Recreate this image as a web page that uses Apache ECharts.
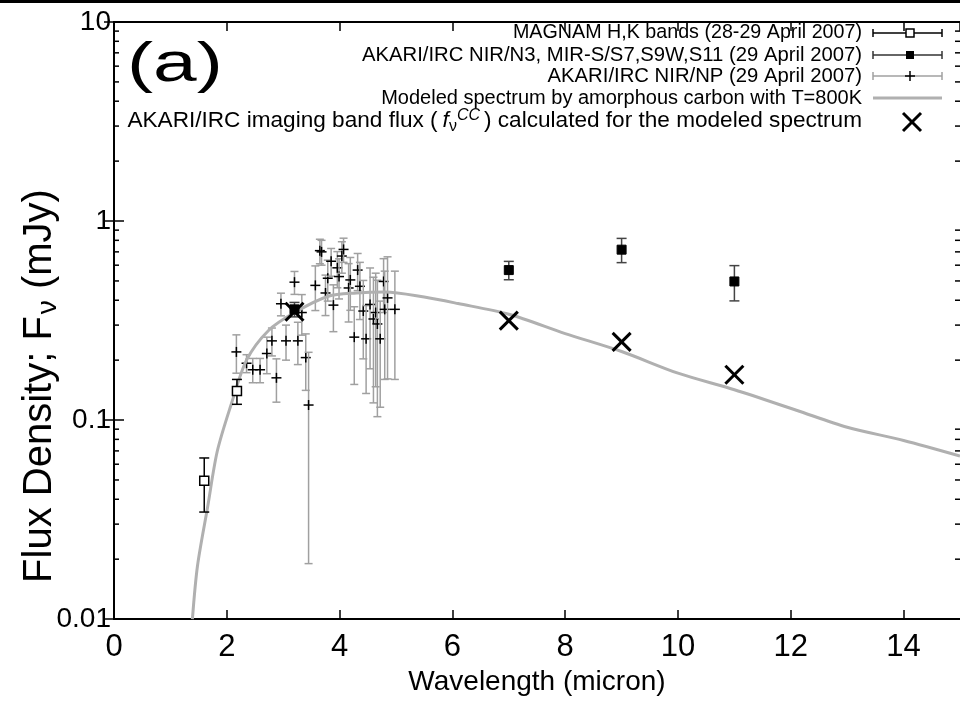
<!DOCTYPE html>
<html>
<head>
<meta charset="utf-8">
<script src="https://cdn.jsdelivr.net/npm/echarts@6/dist/echarts.min.js"></script>
<style>
  html, body { margin: 0; padding: 0; background: #fff; }
  #main { width: 960px; height: 701px; }
</style>
</head>
<body>
<div id="main"></div>
<script>
// MAGNAM H,K bands
var magX = [1.60, 2.18];
var magY = [0.0495, 0.14];
var magErr = [0.015, 0.02];

// AKARI/IRC N3, S7, S9W, S11
var akX = [3.2, 7.0, 9.0, 11.0];
var akY = [0.36, 0.567, 0.718, 0.497];
var akErr = [0.03, 0.06, 0.10, 0.10];

// AKARI/IRC NIR/NP spectrum
var npX = [2.17, 2.35, 2.46, 2.59, 2.71, 2.80, 2.88, 2.96, 3.05, 3.20, 3.26, 3.33, 3.40, 3.45,
           3.57, 3.65, 3.68, 3.75, 3.79, 3.85, 3.89, 3.96, 3.99, 4.04, 4.07, 4.16, 4.19, 4.26,
           4.32, 4.36, 4.42, 4.47, 4.54, 4.60, 4.64, 4.67, 4.72, 4.78, 4.80, 4.85, 4.98];
var npY = [0.22, 0.193, 0.179, 0.179, 0.216, 0.25, 0.163, 0.384, 0.25, 0.493, 0.25, 0.347, 0.206, 0.119,
           0.475, 0.71, 0.70, 0.435, 0.516, 0.628, 0.378, 0.582, 0.526, 0.667, 0.72, 0.461, 0.506, 0.261,
           0.567, 0.47, 0.353, 0.256, 0.381, 0.322, 0.347, 0.304, 0.256, 0.497, 0.36, 0.411, 0.36];
var npErr = [0.048, 0.02, 0.025, 0.025, 0.045, 0.04, 0.04, 0.05, 0.05, 0.065, 0.06, 0.08, 0.065, 0.1,
             0.12, 0.1, 0.1, 0.1, 0.12, 0.1, 0.1, 0.12, 0.12, 0.12, 0.1, 0.15, 0.15, 0.11,
             0.12, 0.15, 0.15, 0.12, 0.2, 0.2, 0.2, 0.2, 0.14, 0.15, 0.2, 0.25, 0.2];

// modeled spectrum (amorphous carbon, T=800K)
var modelX = [1.39, 1.48, 1.66, 1.83, 2.07, 2.35, 2.74, 3.2, 3.8, 4.3, 4.8, 5.5, 6.1, 7.0,
              8.0, 9.0, 10.0, 11.0, 12.1, 13.0, 14.0, 15.0];
var modelY = [0.01, 0.0185, 0.0366, 0.0695, 0.118, 0.2, 0.282, 0.347, 0.419, 0.435, 0.44, 0.415, 0.385, 0.34,
              0.272, 0.221, 0.172, 0.142, 0.112, 0.092, 0.079, 0.066];

// imaging band flux for the model
var bandX = [3.2, 7.0, 9.0, 11.0];
var bandY = [0.35, 0.316, 0.247, 0.169];

var xTicks = [0, 2, 4, 6, 8, 10, 12, 14];
var yTicks = [0.01, 0.1, 1, 10];
var yTickLabels = ['0.01', '0.1', '1', '10'];

var font = "'Liberation Sans', Arial, sans-serif";

// minor ticks of the log axis (2..9 in each decade)
var minorVals = [];
[0.01, 0.1, 1].forEach(function (d) {
    for (var m = 2; m <= 9; m++) minorVals.push(+(d * m).toPrecision(3));
});

function plus(c) {
    return {type: 'group', children: [
        {type: 'line', shape: {x1: c[0] - 5, y1: c[1], x2: c[0] + 5, y2: c[1]}, style: {stroke: '#000', lineWidth: 1.5}},
        {type: 'line', shape: {x1: c[0], y1: c[1] - 5, x2: c[0], y2: c[1] + 5}, style: {stroke: '#000', lineWidth: 1.5}}
    ]};
}
function openSquare(c) {
    return {type: 'rect', shape: {x: c[0] - 4.5, y: c[1] - 4.5, width: 9, height: 9},
        style: {fill: '#fff', stroke: '#000', lineWidth: 1.5}};
}
function filledSquare(c) {
    return {type: 'rect', shape: {x: c[0] - 4.5, y: c[1] - 4.5, width: 9, height: 9},
        style: {fill: '#000', stroke: '#000', lineWidth: 1}};
}
function cross(c) {
    var s = 9;
    return {type: 'group', children: [
        {type: 'line', shape: {x1: c[0] - s, y1: c[1] - s, x2: c[0] + s, y2: c[1] + s}, style: {stroke: '#000', lineWidth: 3}},
        {type: 'line', shape: {x1: c[0] - s, y1: c[1] + s, x2: c[0] + s, y2: c[1] - s}, style: {stroke: '#000', lineWidth: 3}}
    ]};
}

function errSeries(name, xs, ys, errs, color, cap, marker, z) {
    return {
        name: name,
        type: 'custom',
        z: z,
        clip: true,
        data: xs.map(function (x, i) { return [x, ys[i], ys[i] - errs[i], ys[i] + errs[i]]; }),
        encode: {x: 0, y: 1},
        renderItem: function (params, api) {
            var c = api.coord([api.value(0), api.value(1)]);
            var lo = api.coord([api.value(0), api.value(2)]);
            var hi = api.coord([api.value(0), api.value(3)]);
            var st = {stroke: color, lineWidth: 1.5};
            return {type: 'group', children: [
                {type: 'line', shape: {x1: c[0], y1: lo[1], x2: c[0], y2: hi[1]}, style: st},
                {type: 'line', shape: {x1: c[0] - cap, y1: lo[1], x2: c[0] + cap, y2: lo[1]}, style: st},
                {type: 'line', shape: {x1: c[0] - cap, y1: hi[1], x2: c[0] + cap, y2: hi[1]}, style: st},
                marker(c)
            ]};
        }
    };
}

var chart = echarts.init(document.getElementById('main'));

var axisLine = {show: true, lineStyle: {color: '#000', width: 2}};

function legendText(y, text, size) {
    return {type: 'text', x: 862, y: y, z: 100,
        style: {text: text, font: size + 'px ' + font, fill: '#000', align: 'right', verticalAlign: 'middle'}};
}

var option = {
    backgroundColor: '#fff',
    animation: false,
    grid: {left: 114, right: -6, top: 22, bottom: 69},
    xAxis: [{
        type: 'value', min: 0, max: 15, interval: 2, position: 'bottom',
        axisLine: axisLine,
        axisTick: {show: true, inside: true, length: 9, lineStyle: {color: '#000', width: 1.5}},
        axisLabel: {fontFamily: font, fontSize: 31, color: '#000', margin: 13, showMaxLabel: false},
        splitLine: {show: false},
        name: 'Wavelength (micron)', nameLocation: 'middle', nameGap: 41,
        nameTextStyle: {fontFamily: font, fontSize: 28, color: '#000'}
    }, {
        type: 'value', min: 0, max: 15, interval: 2, position: 'top',
        axisLine: axisLine,
        axisTick: {show: true, inside: true, length: 9, lineStyle: {color: '#000', width: 1.5}},
        axisLabel: {show: false}, splitLine: {show: false}
    }],
    yAxis: [{
        type: 'log', logBase: 10, min: 0.01, max: 10, position: 'left',
        axisLine: axisLine,
        axisTick: {show: true, inside: true, length: 10, lineStyle: {color: '#000', width: 1.5}},
        axisLabel: {fontFamily: font, fontSize: 28, color: '#000', margin: 3,
            formatter: function (v) {
                var i = yTicks.findIndex(function (t) { return Math.abs(t - v) / t < 1e-6; });
                return i < 0 ? '' : yTickLabels[i];
            }},
        splitLine: {show: false}
    }, {
        type: 'log', logBase: 10, min: 0.01, max: 10, position: 'right',
        axisLine: axisLine,
        axisTick: {show: true, inside: true, length: 10, lineStyle: {color: '#000', width: 1.5}},
        axisLabel: {show: false}, splitLine: {show: false}
    }],
    series: [
        {
            name: 'minor ticks', type: 'custom', clip: false, silent: true, z: 5,
            data: minorVals.map(function (v) { return [0, v]; }),
            encode: {x: 0, y: 1},
            renderItem: function (params, api) {
                var cs = params.coordSys;
                var y = api.coord([0, api.value(1)])[1];
                var st = {stroke: '#000', lineWidth: 1.5};
                return {type: 'group', children: [
                    {type: 'line', shape: {x1: cs.x, y1: y, x2: cs.x + 5, y2: y}, style: st},
                    {type: 'line', shape: {x1: cs.x + cs.width - 5, y1: y, x2: cs.x + cs.width, y2: y}, style: st}
                ]};
            }
        },
        errSeries('AKARI/IRC NIR/NP (29 April 2007)', npX, npY, npErr, '#a0a0a0', 4, plus, 2),
        {
            name: 'Modeled spectrum by amorphous carbon with T=800K',
            type: 'line', smooth: 0.3, symbol: 'none', z: 3,
            data: modelX.map(function (x, i) { return [x, modelY[i]]; }),
            lineStyle: {color: '#b0b0b0', width: 3}
        },
        errSeries('MAGNAM H,K bands (28-29 April 2007)', magX, magY, magErr, '#000', 5, openSquare, 4),
        errSeries('AKARI/IRC NIR/N3, MIR-S/S7,S9W,S11 (29 April 2007)', akX, akY, akErr, '#444', 5, filledSquare, 4),
        {
            name: 'AKARI/IRC imaging band flux', type: 'custom', z: 6,
            data: bandX.map(function (x, i) { return [x, bandY[i]]; }),
            encode: {x: 0, y: 1},
            renderItem: function (params, api) {
                return cross(api.coord([api.value(0), api.value(1)]));
            }
        }
    ],
    graphic: [
        {type: 'rect', shape: {x: 0, y: 0, width: 960, height: 3}, style: {fill: '#000'}, z: 100},
        {type: 'text', x: 127, y: 66, scaleX: 1.4, z: 100,
            style: {text: '(a)', font: '56px ' + font, fill: '#000', align: 'left', verticalAlign: 'middle'}},
        // y-axis title
        {type: 'text', x: 40, y: 386, rotation: Math.PI / 2, z: 100,
            style: {
                text: '{n|Flux Density; F}{s|ν}{n| (mJy)}',
                align: 'center', verticalAlign: 'middle',
                rich: {
                    n: {fontFamily: font, fontSize: 40, fill: '#000'},
                    s: {fontFamily: font, fontSize: 28, fill: '#000', verticalAlign: 'bottom', padding: [16, 0, 0, 2]}
                }
            }},
        // legend
        legendText(33, 'MAGNAM H,K bands (28-29 April 2007)', 19.7),
        legendText(55, 'AKARI/IRC NIR/N3, MIR-S/S7,S9W,S11 (29 April 2007)', 20.3),
        legendText(76, 'AKARI/IRC NIR/NP (29 April 2007)', 20.3),
        legendText(98, 'Modeled spectrum by amorphous carbon with T=800K', 20),
        {type: 'text', x: 862, y: 121, z: 100, style: {
            text: '{n|AKARI/IRC imaging band flux (}{i|f}{s|ν}{p|CC}{n|) calculated for the modeled spectrum}',
            align: 'right', verticalAlign: 'middle',
            rich: {
                n: {fontFamily: font, fontSize: 22.6, fill: '#000'},
                i: {fontFamily: font, fontSize: 22.6, fontStyle: 'italic', fill: '#000', padding: [0, 0, 0, 5]},
                s: {fontFamily: font, fontSize: 16, fill: '#000', verticalAlign: 'bottom', padding: [11, 0, 0, 0]},
                p: {fontFamily: font, fontSize: 16, fontStyle: 'italic', fill: '#000', verticalAlign: 'top', padding: [0, 4, 11, 0]}
            }}},
        // legend samples
        {type: 'group', z: 100, children: [
            {type: 'line', shape: {x1: 873, y1: 33, x2: 942, y2: 33}, style: {stroke: '#000', lineWidth: 1.5}},
            {type: 'line', shape: {x1: 873, y1: 29, x2: 873, y2: 37}, style: {stroke: '#000', lineWidth: 1.5}},
            {type: 'line', shape: {x1: 942, y1: 29, x2: 942, y2: 37}, style: {stroke: '#000', lineWidth: 1.5}},
            {type: 'rect', shape: {x: 906, y: 29, width: 8, height: 8}, style: {fill: '#fff', stroke: '#000', lineWidth: 1.5}},

            {type: 'line', shape: {x1: 873, y1: 55, x2: 942, y2: 55}, style: {stroke: '#333', lineWidth: 1.5}},
            {type: 'line', shape: {x1: 873, y1: 51, x2: 873, y2: 59}, style: {stroke: '#333', lineWidth: 1.5}},
            {type: 'line', shape: {x1: 942, y1: 51, x2: 942, y2: 59}, style: {stroke: '#333', lineWidth: 1.5}},
            {type: 'rect', shape: {x: 906, y: 51, width: 8, height: 8}, style: {fill: '#000'}},

            {type: 'line', shape: {x1: 873, y1: 76, x2: 942, y2: 76}, style: {stroke: '#a0a0a0', lineWidth: 1.5}},
            {type: 'line', shape: {x1: 873, y1: 72, x2: 873, y2: 80}, style: {stroke: '#a0a0a0', lineWidth: 1.5}},
            {type: 'line', shape: {x1: 942, y1: 72, x2: 942, y2: 80}, style: {stroke: '#a0a0a0', lineWidth: 1.5}},
            {type: 'line', shape: {x1: 905, y1: 76, x2: 915, y2: 76}, style: {stroke: '#000', lineWidth: 1.5}},
            {type: 'line', shape: {x1: 910, y1: 71, x2: 910, y2: 81}, style: {stroke: '#000', lineWidth: 1.5}},

            {type: 'line', shape: {x1: 873, y1: 98, x2: 942, y2: 98}, style: {stroke: '#b0b0b0', lineWidth: 3}},

            {type: 'line', shape: {x1: 903, y1: 113, x2: 921, y2: 131}, style: {stroke: '#000', lineWidth: 3}},
            {type: 'line', shape: {x1: 903, y1: 131, x2: 921, y2: 113}, style: {stroke: '#000', lineWidth: 3}}
        ]}
    ]
};

chart.setOption(option);
</script>
</body>
</html>
